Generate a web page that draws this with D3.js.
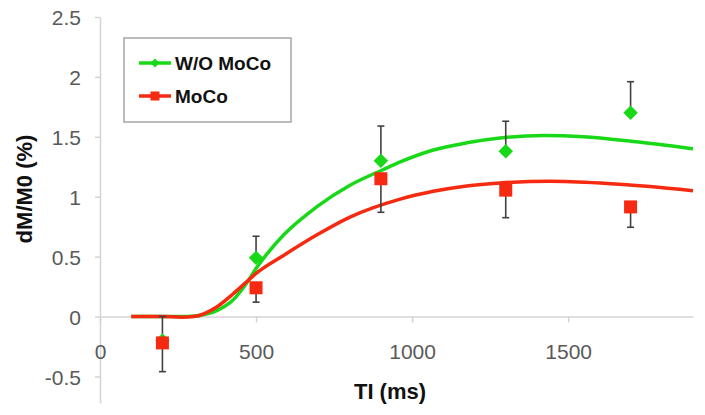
<!DOCTYPE html>
<html><head><meta charset="utf-8">
<script src="https://cdn.jsdelivr.net/npm/d3@7"></script>
<style>
html,body{margin:0;padding:0;background:#fff;}
svg{display:block;font-family:"Liberation Sans",Arial,sans-serif;}
</style></head>
<body>
<svg id="chart" width="705" height="415"></svg>
<script>
// ---- data ----
const tiPoints = [200, 500, 900, 1300, 1700];
const woMocoValues = [-0.2, 0.49, 1.30, 1.38, 1.70];
const woMocoErrPlus = [0.2, 0.18, 0.29, 0.25, 0.26];
const mocoValues = [-0.22, 0.24, 1.15, 1.055, 0.915];
const mocoErrMinus = [0.24, 0.12, 0.28, 0.23, 0.17];

const woMocoFitTI =  [100, 200, 280, 330, 374, 427, 470, 500, 588, 694, 801, 908, 962, 1068, 1175, 1282, 1421, 1549, 1709, 1900];
const woMocoFitVal = [0, 0, 0, 0.015, 0.05, 0.14, 0.28, 0.40, 0.68, 0.915, 1.096, 1.227, 1.29, 1.39, 1.45, 1.49, 1.51, 1.50, 1.46, 1.40];
const mocoFitTI =  [100, 200, 260, 300, 374, 427, 470, 500, 588, 694, 801, 962, 1068, 1175, 1282, 1442, 1603, 1762, 1900];
const mocoFitVal = [0, 0, -0.005, 0, 0.08, 0.19, 0.29, 0.36, 0.51, 0.68, 0.83, 0.98, 1.045, 1.09, 1.115, 1.13, 1.115, 1.085, 1.05];

const xTicks = [0, 500, 1000, 1500];
const yTicks = [-0.5, 0, 0.5, 1, 1.5, 2, 2.5];
const seriesNames = ["W/O MoCo", "MoCo"];
const xTitle = "TI (ms)";
const yTitle = "dM/M0 (%)";

// ---- styles ----
const GREEN = "#18d818", RED = "#f62a10", AXIS = "#d4d4d4", TXT = "#595959", ERR = "#404040";

const svg = d3.select("#chart");
const x = d3.scaleLinear().domain([0, 1900]).range([100, 693]);
const y = d3.scaleLinear().domain([-0.72, 2.5]).range([402.8, 17]);

// y axis
const yAxis = d3.axisLeft(y).tickValues(yTicks).tickSize(5).tickSizeOuter(0);
const gy = svg.append("g").attr("transform", `translate(${x(0)},0)`).call(yAxis);
gy.select(".domain").attr("stroke", AXIS).attr("stroke-width", 1.5);
gy.selectAll(".tick line").attr("stroke", AXIS).attr("stroke-width", 1.5);
gy.selectAll(".tick text").attr("x", -19).attr("fill", TXT).attr("font-size", 21).attr("dy", "0.36em")
  .text(d => String(d));

// x axis at y=0
const xAxis = d3.axisBottom(x).tickValues(xTicks).tickSize(6).tickSizeOuter(0).tickFormat(d => String(d));
const gx = svg.append("g").attr("transform", `translate(0,${y(0)})`).call(xAxis);
gx.select(".domain").attr("stroke", AXIS).attr("stroke-width", 1.5);
gx.selectAll(".tick line").attr("stroke", AXIS).attr("stroke-width", 1.5);
gx.selectAll(".tick text").attr("y", 0).attr("dy", 0)
  .attr("transform", `translate(0,${359 - y(0)})`)
  .attr("fill", TXT).attr("font-size", 21);

// titles
svg.append("text").attr("x", 390).attr("y", 399).attr("text-anchor", "middle")
  .attr("font-weight", "bold").attr("font-size", 22).attr("fill", "#111").text(xTitle);
svg.append("text").attr("transform", "translate(32,189) rotate(-90)").attr("text-anchor", "middle")
  .attr("font-weight", "bold").attr("font-size", 22).attr("fill", "#111").text(yTitle);

// fit curves
const line = d3.line().x(d => x(d[0])).y(d => y(d[1])).curve(d3.curveMonotoneX);
svg.append("path").datum(d3.zip(woMocoFitTI, woMocoFitVal)).attr("d", line)
  .attr("fill", "none").attr("stroke", GREEN).attr("stroke-width", 3.5);
svg.append("path").datum(d3.zip(mocoFitTI, mocoFitVal)).attr("d", line)
  .attr("fill", "none").attr("stroke", RED).attr("stroke-width", 3.5);

// error bars
function errBars(vals, errs, dir) {
  const g = svg.append("g").attr("stroke", ERR).attr("stroke-width", 1.6);
  tiPoints.forEach((t, i) => {
    const y0 = y(vals[i]), y1 = y(vals[i] + dir * errs[i]), cx = x(t);
    g.append("line").attr("x1", cx).attr("x2", cx).attr("y1", y0).attr("y2", y1);
    g.append("line").attr("x1", cx - 3.5).attr("x2", cx + 3.5).attr("y1", y1).attr("y2", y1);
  });
}
errBars(woMocoValues, woMocoErrPlus, 1);
errBars(mocoValues, mocoErrMinus, -1);

// markers
const diamond = d3.symbol().type(d3.symbolSquare).size(105);
svg.append("g").selectAll("path").data(tiPoints).join("path")
  .attr("d", diamond())
  .attr("transform", (t, i) => `translate(${x(t)},${y(woMocoValues[i])}) rotate(45)`)
  .attr("fill", GREEN);
svg.append("g").selectAll("rect").data(tiPoints).join("rect")
  .attr("x", t => x(t) - 6.5).attr("y", (t, i) => y(mocoValues[i]) - 6.5)
  .attr("width", 13).attr("height", 13).attr("fill", RED);

// legend
const lg = svg.append("g");
lg.append("rect").attr("x", 124).attr("y", 38).attr("width", 167).attr("height", 84)
  .attr("fill", "#fff").attr("stroke", "#a6a6a6").attr("stroke-width", 1.5);
const legendRows = [
  {name: seriesNames[0], color: GREEN, cy: 63, shape: "diamond"},
  {name: seriesNames[1], color: RED, cy: 96, shape: "square"}
];
legendRows.forEach(r => {
  lg.append("line").attr("x1", 139).attr("x2", 171).attr("y1", r.cy).attr("y2", r.cy)
    .attr("stroke", r.color).attr("stroke-width", 3.5);
  if (r.shape === "diamond") {
    lg.append("path").attr("d", d3.symbol().type(d3.symbolSquare).size(40)())
      .attr("transform", `translate(155,${r.cy}) rotate(45)`).attr("fill", r.color);
  } else {
    lg.append("rect").attr("x", 150.5).attr("y", r.cy - 4.5).attr("width", 9).attr("height", 9).attr("fill", r.color);
  }
  lg.append("text").attr("x", 175).attr("y", r.cy + 6.5).attr("font-weight", "bold")
    .attr("font-size", 19).attr("fill", "#111").text(r.name);
});
</script>
</body></html>
